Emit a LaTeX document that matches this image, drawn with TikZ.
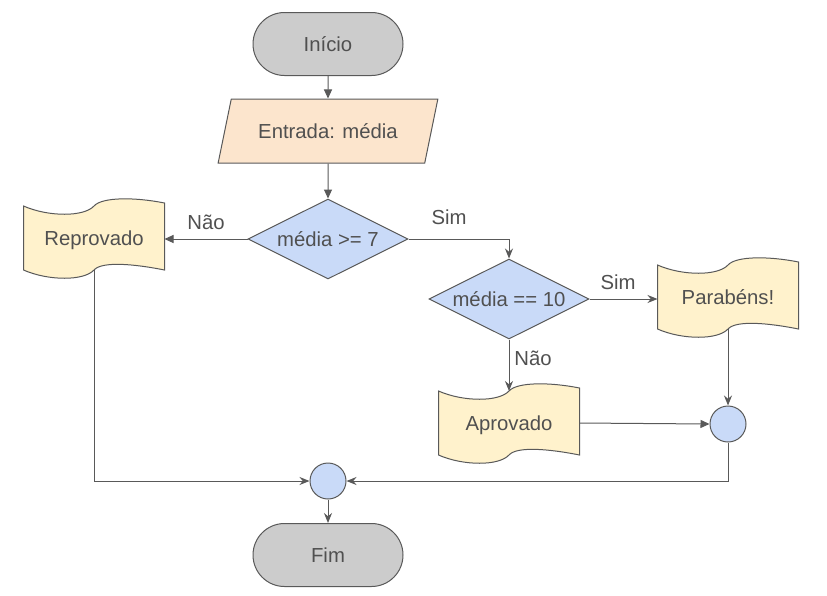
\documentclass[tikz,border=0pt]{standalone}
\usepackage{fontspec}
\setmainfont{Liberation Sans}
\usetikzlibrary{shapes.geometric,shapes.misc,arrows.meta,backgrounds}
\definecolor{linegray}{HTML}{595959}
\definecolor{textgray}{HTML}{505050}
\definecolor{termgray}{HTML}{CCCCCC}
\definecolor{inpeach}{HTML}{FCE5CD}
\definecolor{decblue}{HTML}{C9DAF8}
\definecolor{docyellow}{HTML}{FFF2CC}
% wavy document outline round a named node
\newcommand{\docshape}[1]{%
    \draw[draw=linegray, line width=1pt, fill=docyellow]
        (#1.north west) .. controls +(25,11) and +(-10,11) .. (#1.north)
        .. controls +(8,-9) and +(-30,-6) .. ([yshift=3pt]#1.north east)
        -- (#1.south east) .. controls +(-30,-6) and +(8,-9) .. (#1.south)
        .. controls +(-10,11) and +(25,11) .. (#1.south west) -- cycle;}
\begin{document}
\begin{tikzpicture}[x=1pt,y=-1pt]
    \useasboundingbox (0,0) rectangle (827,595);
    \tikzset{base/.style={draw=linegray, line width=1pt, text=textgray, inner sep=0pt, font=\fontsize{20.3}{24}\selectfont}}
    \tikzset{term/.style={base, rounded rectangle, fill=termgray, minimum width=150pt, minimum height=63pt}}
    \tikzset{inbox/.style={base, trapezium, trapezium left angle=58, trapezium right angle=122, trapezium stretches=true, fill=inpeach, minimum width=220pt, minimum height=64pt}}
    \tikzset{dec/.style={base, diamond, aspect=2, fill=decblue, minimum width=160pt, minimum height=80pt}}
    \tikzset{doc/.style={base, draw=none, rectangle, text depth=0pt, minimum width=140pt, minimum height=63pt}}
    \tikzset{junction/.style={base, circle, fill=decblue, minimum size=36pt}}
    \tikzset{lbl/.style={text=textgray, inner sep=0pt, font=\fontsize{20.3}{24}\selectfont}}
    \tikzset{tri/.style={draw=linegray, line width=1pt, -{Triangle[length=9pt,width=8pt]}}}
    \tikzset{stl/.style={draw=linegray, line width=1pt, -{Stealth[length=10pt,width=8pt]}}}
    \node[term] (ini) at (328,44) {Início};
    \node[inbox] (ent) at (328,131) {Entrada: média};
    \node[dec] (d1) at (328,239) {média >= 7};
    \node[doc] (rep) at (94,238) {Reprovado};
    \node[dec] (d2) at (509,299) {média == 10};
    \node[doc] (par) at (728,297) {Parabéns!};
    \node[doc] (apr) at (509,423) {Aprovado};
    \node[junction] (c1) at (728,424) {};
    \node[junction] (c2) at (328,481) {};
    \node[term] (fim) at (328,555) {Fim};
    \begin{scope}[on background layer]
        \docshape{rep}
        \docshape{par}
        \docshape{apr}
    \end{scope}
    \node[lbl] (nao1) at (206,222) {Não}; %label
    \node[lbl] (sim1) at (449,217) {Sim}; %label
    \node[lbl] (sim2) at (618,282) {Sim}; %label
    \node[lbl] (nao2) at (533,358) {Não}; %label
    \draw[tri] (ini) -- (ent);
    \draw[tri] (ent) -- (d1);
    \draw[tri] (d1.west) -- (d1.west -| rep.east);
    \draw[stl] (d1.east) -| (d2.north);
    \draw[stl] (d2.east) -- (d2.east -| par.west);
    \draw[stl] (d2.south) -- (apr.north);
    \draw[tri] (apr.east) -- (c1.west);
    \draw[stl] (par.south) -- (c1.north);
    \draw[stl] (c1.south) |- (c2.east);
    \draw[stl] (rep.south) |- (c2.west);
    \draw[stl] (c2) -- (fim);
\end{tikzpicture}
\end{document}
